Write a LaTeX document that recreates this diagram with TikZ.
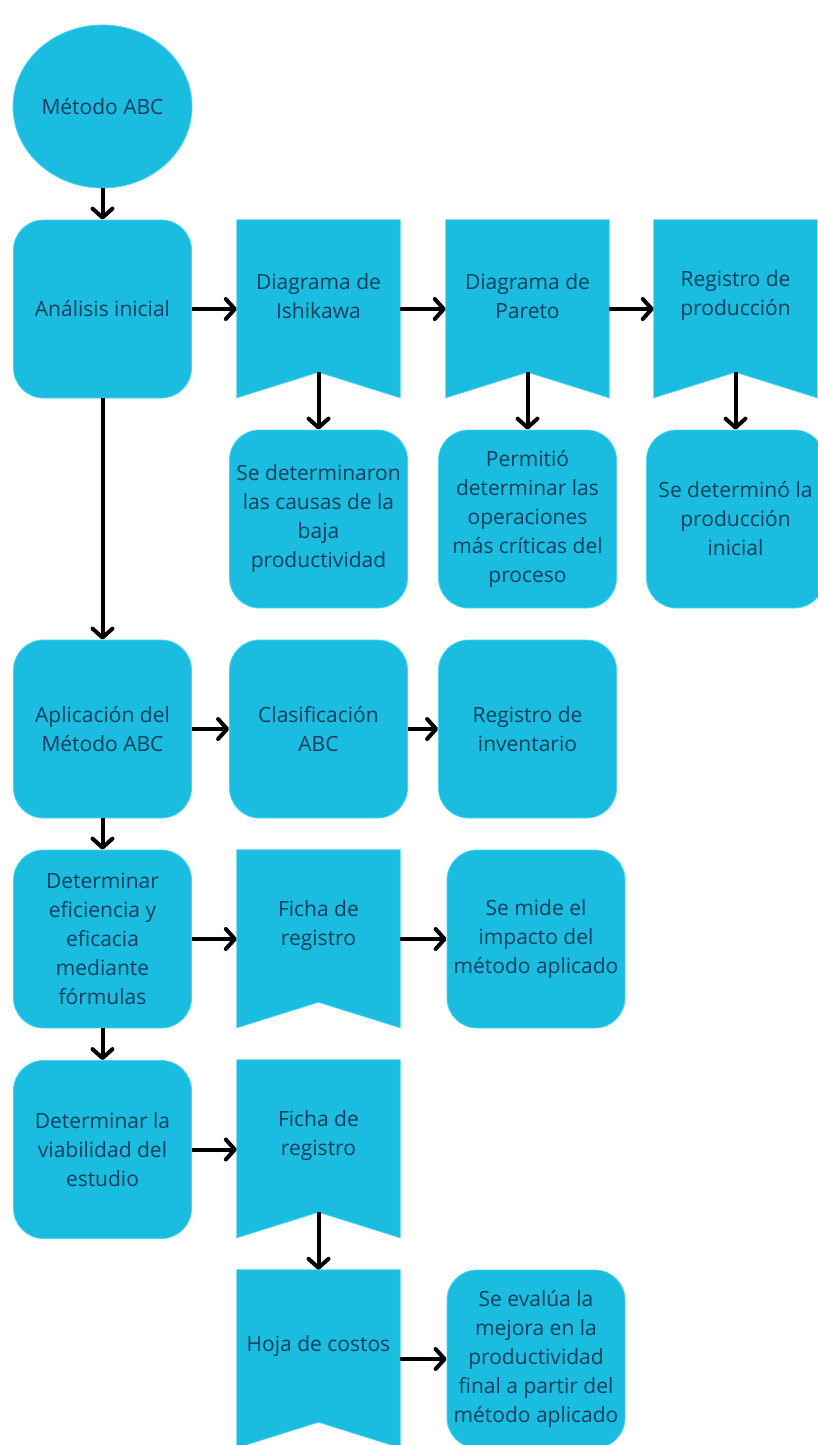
\documentclass[tikz,border=0pt]{standalone}
\usepackage{fontspec}
\setmainfont{Open Sans}
\usetikzlibrary{arrows.meta,shapes.geometric,calc,backgrounds}
\definecolor{boxfill}{RGB}{26,189,224}
\definecolor{boxedge}{RGB}{80,212,240}
\definecolor{txt}{RGB}{22,62,92}
\tikzset{
  lbl/.style={text=txt, align=center, font=\fontsize{21}{29}\selectfont, inner sep=0pt},
  rbox/.style={lbl, rectangle, rounded corners=30pt, fill=boxfill, draw=boxedge, line width=0.8pt,
               minimum width=178pt, minimum height=178pt},
  circbox/.style={lbl, ellipse, fill=boxfill, draw=boxedge, line width=0.8pt,
               minimum width=179pt, minimum height=163pt},
  bantext/.style={lbl, rectangle, minimum width=163pt, minimum height=152pt},
  banfill/.style={fill=boxfill, draw=boxedge, line width=0.8pt},
  arr/.style={line width=4pt, black, -{Straight Barb[length=9pt,width=20pt,round]}}
}
\newcommand{\bannershape}[1]{%
  \path[banfill] (#1.north west) -- (#1.north east) -- ($(#1.north east)+(0,178)$)
    -- (#1.south) -- ($(#1.north west)+(0,178)$) -- cycle;}
\begin{document}
\begin{tikzpicture}[x=1pt,y=-1pt]
\useasboundingbox (0,0) rectangle (818,1445);
\clip (0,0) rectangle (818,1445);

% nodes
\node[circbox] (meth) at (102.5,106.5) {Método ABC};
\node[rbox] (ana) at (102.5,309) {Análisis inicial};
\node[bantext] (ish) at (318.5,296) {Diagrama de\\Ishikawa};
\node[bantext] (par) at (527.5,296) {Diagrama de\\Pareto};
\node[bantext] (regp) at (735.5,296) {Registro de\\producción};
\node[rbox] (rish) at (318.5,519) {Se determinaron\\las causas de la\\baja\\productividad};
\node[rbox] (rpar) at (527.5,519) {Permitió\\determinar las\\operaciones\\más críticas del\\proceso};
\node[rbox] (rreg) at (735.5,519) {Se determinó la\\producción\\inicial};
\node[rbox] (apl) at (102.5,729) {Aplicación del\\Método ABC};
\node[rbox] (cla) at (318.5,729) {Clasificación\\ABC};
\node[rbox] (inv) at (527.5,729) {Registro de\\inventario};
\node[rbox] (efi) at (102.5,939) {Determinar\\eficiencia y\\eficacia\\mediante\\fórmulas};
\node[bantext] (fia) at (318.5,926) {Ficha de\\registro};
\node[rbox] (mide) at (536,939) {Se mide el\\impacto del\\método aplicado};
\node[rbox] (via) at (102.5,1149.5) {Determinar la\\viabilidad del\\estudio};
\node[bantext] (fib) at (318.5,1136) {Ficha de\\registro};
\node[bantext] (hoja) at (318.5,1346) {Hoja de costos};
\node[rbox] (eva) at (536,1359) {Se evalúa la\\mejora en la\\productividad\\final a partir del\\método aplicado};

\begin{scope}[on background layer]
  \fill[white] (0,0) rectangle (818,1445);
  \bannershape{ish}
  \bannershape{par}
  \bannershape{regp}
  \bannershape{fia}
  \bannershape{fib}
  \bannershape{hoja}
\end{scope}

% connectors
\draw[arr] (meth.south) -- (ana.north);
\draw[arr] (ana.east) -- (ana.east -| ish.west);
\draw[arr] (ish.east |- ana.east) -- (par.west |- ana.east);
\draw[arr] (par.east |- ana.east) -- (regp.west |- ana.east);
\draw[arr] (ish.south) -- (rish.north);
\draw[arr] (par.south) -- (rpar.north);
\draw[arr] (regp.south) -- (rreg.north);
\draw[arr] (ana.south) -- (apl.north);
\draw[arr] (apl.east) -- (cla.west);
\draw[arr] (cla.east) -- (inv.west);
\draw[arr] (apl.south) -- (efi.north);
\draw[arr] (efi.east) -- (efi.east -| fia.west);
\draw[arr] (fia.east |- efi.east) -- (mide.west);
\draw[arr] (efi.south) -- (via.north);
\draw[arr] (via.east) -- (via.east -| fib.west);
\draw[arr] (fib.south) -- (hoja.north);
\draw[arr] (hoja.east |- eva.west) -- (eva.west);
\end{tikzpicture}
\end{document}
